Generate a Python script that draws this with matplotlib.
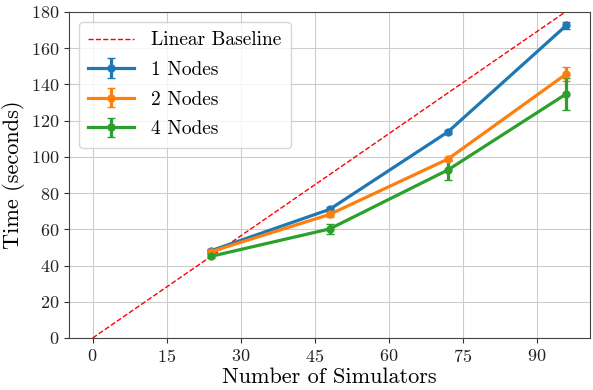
import matplotlib
matplotlib.use("Agg")
import matplotlib.pyplot as plt

plt.rcParams['font.family'] = ['cmr10', 'DejaVu Serif']
plt.rcParams['mathtext.fontset'] = 'cm'
plt.rcParams['axes.formatter.use_mathtext'] = True

simulators = [24, 48, 72, 96]
baseline_x = [0, 96]
baseline_y = [0, 180.4]

nodes1 = [48.2, 71.0, 113.8, 172.6]
nodes1_err = [1.0, 1.5, 1.0, 1.8]
nodes2 = [47.7, 68.2, 98.8, 145.8]
nodes2_err = [1.0, 1.2, 1.2, 4.0]
nodes4 = [45.1, 60.2, 92.8, 134.8]
nodes4_err = [1.2, 3.0, 5.6, 8.8]

fig = plt.figure(figsize=(5.93, 3.90), dpi=100)
ax = fig.add_axes([69/593, 1-338/390, (590-69)/593, (338-12)/390])

ax.plot(baseline_x, baseline_y, '--', color='red', lw=1.0, label='Linear Baseline')
ax.errorbar(simulators, nodes1, yerr=nodes1_err, marker='o', ms=5, lw=2.3, capsize=3, color='#1f77b4', label='1 Nodes')
ax.errorbar(simulators, nodes2, yerr=nodes2_err, marker='o', ms=5, lw=2.3, capsize=3, color='#ff7f0e', label='2 Nodes')
ax.errorbar(simulators, nodes4, yerr=nodes4_err, marker='o', ms=5, lw=2.3, capsize=3, color='#2ca02c', label='4 Nodes')

ax.set_ylim(0, 180)
ax.set_xlim(-4.8, 100.8)
ax.set_xticks([0, 15, 30, 45, 60, 75, 90])
ax.set_yticks(range(0, 181, 20))
ax.tick_params(labelsize=13, colors='#333333', labelcolor='#222222')
ax.grid(True, color='#cccccc', lw=0.8)
ax.set_axisbelow(True)
for s in ax.spines.values():
    s.set_color('#444444')
ax.set_xlabel('Number of Simulators', fontsize=16, labelpad=2)
ax.set_ylabel('Time (seconds)', fontsize=16, labelpad=4)
ax.legend(loc='upper left', fontsize=14, handlelength=2.35, handletextpad=0.85,
          borderpad=0.5, labelspacing=0.6)

fig.savefig('out.png', dpi=100)
